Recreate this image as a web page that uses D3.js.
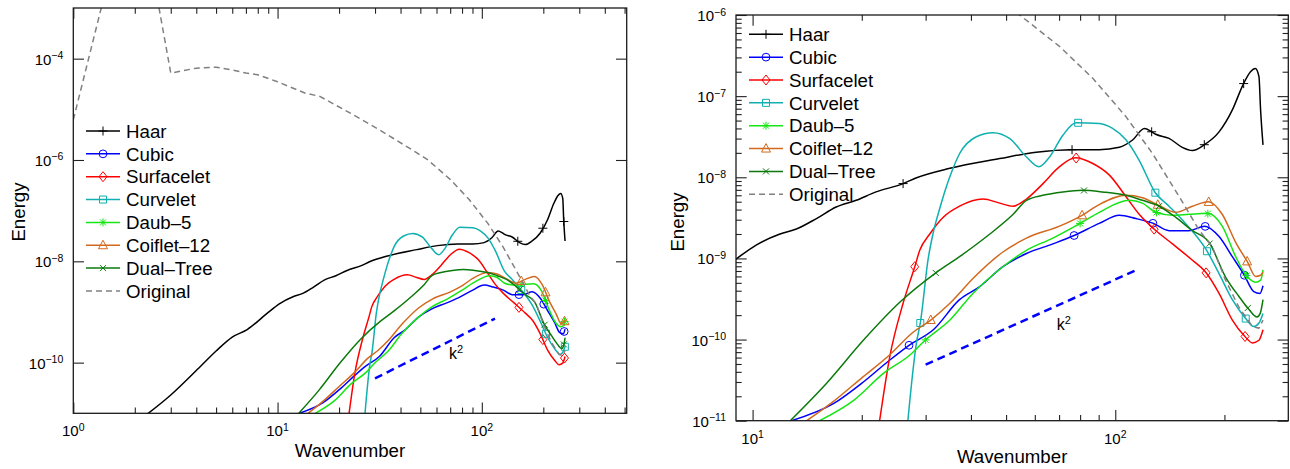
<!DOCTYPE html>
<html><head><meta charset="utf-8">
<script src="https://cdn.jsdelivr.net/npm/d3@7"></script>
<style>
body{margin:0;background:#fff}
svg text{font-family:"Liberation Sans",Arial,Helvetica,sans-serif;fill:#000}
</style>
</head><body>
<svg id="c" width="1290" height="469"></svg>
<script>
// ---------------- DATA (wavenumber k, energy E) ----------------
const seriesNames = ["Haar","Cubic","Surfacelet","Curvelet","Daub–5","Coiflet–12","Dual–Tree","Original"];

const haarData = [[2,6.3e-12],[3,2.3e-11],[4.2,8.5e-11],[5,1.7e-10],[6,3.2e-10],[7.1,4.5e-10],[9,9.8e-10],
 [10.2,1.45e-9],[11.9,2.0e-9],[13.2,2.3e-9],[15,3.1e-9],[17,4.3e-9],[19.3,5.2e-9],[21.9,6.6e-9],[25.9,8.3e-9],
 [28.2,9.8e-9],[35,1.29e-8],[48,1.7e-8],[60.5,2.04e-8],[76.4,2.19e-8],[90.3,2.19e-8],[102.6,2.34e-8],
 [111.6,2.88e-8],[120.3,3.98e-8],[126.1,3.63e-8],[129.3,3.39e-8],[140.7,3.02e-8],[153,2.34e-8],[163.2,2.14e-8],
 [175.8,2.51e-8],[193.3,3.63e-8],[210.3,6.76e-8],[225,1.38e-7],[236,2.0e-7],[243.5,2.19e-7],[249,1.74e-7],
 [251.6,6.76e-8],[255.5,2.51e-8]];

const cubicData = [[12.8,1.0e-11],[16.7,1.62e-11],[20.2,3.0e-11],[23.9,5.6e-11],[27,8.5e-11],[31.5,1.32e-10],
 [37.2,3.1e-10],[42.3,4.5e-10],[49,7.9e-10],[56.9,1.15e-9],[67.3,1.51e-9],[76.7,1.9e-9],[90.3,2.7e-9],
 [102.6,3.4e-9],[114,3.1e-9],[127.4,2.7e-9],[140.7,2.2e-9],[159.6,2.2e-9],[176.6,2.5e-9],[193.3,1.86e-9],
 [210.3,1.05e-9],[227,6.2e-10],[241,3.9e-10],[250.6,3.7e-10],[255.5,4.6e-10]];

const surfaceletData = [[22.4,1.0e-11],[23.9,6.2e-11],[26,2.8e-10],[28,7.9e-10],[28.9,1.26e-9],[30.8,2.0e-9],
 [33.5,3.2e-9],[37.2,4.4e-9],[43.2,5.4e-9],[48,4.8e-9],[52.2,4.4e-9],[56.9,5.4e-9],[63.1,8.3e-9],[70.2,1.35e-8],
 [77.6,1.74e-8],[86.7,1.48e-8],[96.2,1.07e-8],[107,5.8e-9],[116.4,3.5e-9],[127.9,2.3e-9],[143.8,1.51e-9],
 [163.2,9.5e-10],[177.4,6.8e-10],[193.3,3.7e-10],[210.3,1.74e-10],[227.5,1.1e-10],[239,9.1e-11],[249,9.8e-11],
 [255.5,1.32e-10]];

const curveletData = [[26.8,1.0e-11],[28.3,9.1e-11],[29,1.6e-10],[30.5,1.0e-9],[31.5,2.1e-9],[32.9,4.3e-9],
 [34.2,7.6e-9],[35.4,1.17e-8],[37.2,1.95e-8],[41.4,3.16e-8],[46,3.55e-8],[51.2,3.0e-8],[56.9,1.78e-8],
 [61.6,1.35e-8],[65.9,1.78e-8],[71.7,3.3e-8],[78,4.7e-8],[90.3,4.6e-8],[98.3,4.0e-8],[107,2.9e-8],[116.4,1.62e-8],
 [128.8,6.5e-9],[140.7,4.4e-9],[156.2,2.7e-9],[177.4,1.32e-9],[193.3,6.5e-10],[210.3,3.1e-10],[228.8,1.82e-10],
 [241,1.45e-10],[249,1.6e-10],[255.5,2.1e-10]];

const daub5Data = [[15.3,1.0e-11],[19,1.78e-11],[22.9,3.8e-11],[27.2,6.5e-11],[29.9,9.8e-11],[35,1.74e-10],
 [40.5,3.7e-10],[49,7.9e-10],[56.9,1.26e-9],[67.3,1.78e-9],[80,2.7e-9],[90.3,3.7e-9],[109.3,5.2e-9],
 [118.8,4.8e-9],[129.4,3.7e-9],[143.8,3.4e-9],[159.6,3.5e-9],[179.5,3.6e-9],[197.2,2.5e-9],[214.8,1.05e-9],
 [229.6,6.2e-10],[243.8,5.1e-10],[251.6,5.4e-10],[255.5,7.2e-10]];

const coiflet12Data = [[14.1,1.0e-11],[16.4,1.62e-11],[20.2,3.5e-11],[23.9,6.5e-11],[27.7,1.23e-10],[31,1.74e-10],
 [35,2.8e-10],[40.9,5.9e-10],[49,1.2e-9],[56.9,1.78e-9],[70.2,2.5e-9],[81,3.4e-9],[90.3,4.6e-9],[107,6.0e-9],
 [118.8,5.6e-9],[130.7,4.6e-9],[146.9,3.7e-9],[163.2,4.4e-9],[180.7,5.0e-9],[197.2,3.5e-9],[214.8,1.58e-9],
 [231.3,9.1e-10],[243.8,6.0e-10],[251.6,6.2e-10],[255.5,6.8e-10]];

const dualTreeData = [[12.7,1.0e-11],[16,2.9e-11],[20.2,9.8e-11],[25.5,2.9e-10],[31.8,6.5e-10],[37.2,1.05e-9],
 [45.1,2.0e-9],[52.3,3.5e-9],[56.9,5.2e-9],[63.1,6.0e-9],[71.7,6.6e-9],[81.3,6.9e-9],[92.3,6.6e-9],[107,6.0e-9],
 [118.8,5.2e-9],[132.1,4.4e-9],[146.9,3.2e-9],[163.2,2.2e-9],[181.3,1.58e-9],[201.4,5.9e-10],[219.3,3.4e-10],
 [232.8,2.4e-10],[246,1.9e-10],[251,2.1e-10],[255.5,3.1e-10]];

const originalData = [[1,6.2e-6],[2,0.45],[3,5.2e-5],[4,6.5e-5],[5,6.8e-5],[6,6.0e-5],[7,5.2e-5],[8,4.8e-5],
 [10,3.5e-5],[13.6,2.1e-5],[16.1,1.8e-5],[22.6,8.5e-6],[32.7,3.6e-6],[47.9,1.4e-6],[54.5,1.0e-6],[70.2,4.1e-7],
 [86.7,1.66e-7],[107,5.6e-8],[126.8,1.95e-8],[150,5.8e-9],[170.2,2.24e-9],[185.4,1.38e-9],[201.4,5.4e-10],
 [219.3,2.5e-10],[239,1.45e-10],[249,1.38e-10],[255.5,1.74e-10]];

const k2Line = [[30,4.9e-11],[116,7.4e-10]];
const k2LabelAt = [69,1.55e-10];

// marker wavenumbers for each series (Haar..Dual-Tree)
const leftMarkerK  = [[150,199,252],[152,201,253],[152,199,254],[156,206,255],[156,205,254],[156,205,254],[153,203,252]];
const rightMarkerK = [[26,76,126,176,226],[27,77,127,177,227],[28,78,128,178,228],[29,79,129,179,229],
                      [30,80,130,180,230],[31,81,131,181,231],[32,82,132,182,232]];

// tick values
const leftXTicks  = [1,10,100];
const leftYTicks  = [1e-10,1e-8,1e-6,1e-4];
const rightXTicks = [10,100];
const rightYTicks = [1e-11,1e-10,1e-9,1e-8,1e-7,1e-6];

// ---------------- STYLE ----------------
const allData = [haarData,cubicData,surfaceletData,curveletData,daub5Data,coiflet12Data,dualTreeData,originalData];
const colors  = ["#000000","#0000ff","#ff0000","#10b0b0","#14e614","#d2691e","#0b7a0b","#808080"];
const markerTypes = ["plus","circle","diamond","square","asterisk","triangle","x",null];
const FONT_BIG = 18.7, FONT_TICK = 15, FONT_SUP = 10.5;

const svg = d3.select("#c");
svg.append("rect").attr("width",1290).attr("height",469).attr("fill","#fff");

function markerPath(t){
  switch(t){
    case "plus": return "M-4.5,0H4.5M0,-4.5V4.5";
    case "diamond": return "M0,-5L4,0L0,5L-4,0Z";
    case "square": return "M-3.5,-3.5H3.5V3.5H-3.5Z";
    case "asterisk": return "M-4,0H4M0,-4V4M-3,-3L3,3M-3,3L3,-3";
    case "triangle": return "M0,-5L4.5,3.5H-4.5Z";
    case "x": return "M-3,-3L3,3M-3,3L3,-3";
  }
  return null;
}
function drawMarker(g, t, cx, cy, col){
  if(!t) return;
  if(t==="circle"){
    g.append("circle").attr("cx",cx).attr("cy",cy).attr("r",3.9)
      .attr("fill","none").attr("stroke",col).attr("stroke-width",1);
  } else {
    g.append("path").attr("d",markerPath(t)).attr("transform",`translate(${cx},${cy})`)
      .attr("fill","none").attr("stroke",col).attr("stroke-width",1);
  }
}
function interpLog(data,k){
  for(let i=0;i<data.length-1;i++){
    const [k0,e0]=data[i],[k1,e1]=data[i+1];
    if(k>=k0 && k<=k1){
      const t=(Math.log10(k)-Math.log10(k0))/(Math.log10(k1)-Math.log10(k0));
      return Math.pow(10, Math.log10(e0)+t*(Math.log10(e1)-Math.log10(e0)));
    }
  }
  return data[data.length-1][1];
}
function powLabel(sel, v){
  const e = Math.round(Math.log10(v));
  sel.append("tspan").text("10");
  sel.append("tspan").attr("dy",-5.5).attr("font-size",FONT_SUP).text((e<0?"−":"")+Math.abs(e));
}

const panels = [
  {x0:73.3,x1:626.7,y0:8,y1:413.3,xDom:[1,512],yDom:[1e-11,1e-3],xMajor:leftXTicks,yMajor:leftYTicks,
   yMinor:false,markerK:leftMarkerK,legX:86,legY:131,xLabelY:457,yLabelX:25,yLabelY:212},
  {x0:736,x1:1288.3,y0:15,y1:420.7,xDom:[9,300],yDom:[1e-11,1e-6],xMajor:rightXTicks,yMajor:rightYTicks,
   yMinor:true,markerK:rightMarkerK,legX:749,legY:34.3,xLabelY:463,yLabelX:683.5,yLabelY:222}
];

panels.forEach((p,pi)=>{
  const x = d3.scaleLog().domain(p.xDom).range([p.x0,p.x1]);
  const y = d3.scaleLog().domain(p.yDom).range([p.y1,p.y0]);
  const g = svg.append("g");
  const clipId = "clip"+pi;
  g.append("clipPath").attr("id",clipId).append("rect")
    .attr("x",p.x0).attr("y",p.y0).attr("width",p.x1-p.x0).attr("height",p.y1-p.y0);

  // ticks
  const near=(a,b)=>Math.abs(a-b)/b<1e-6;
  const xMinor = x.ticks().filter(v=>!p.xMajor.some(m=>near(v,m)) && v>p.xDom[0] && v<p.xDom[1]);
  const yMinor = p.yMinor ? y.ticks().filter(v=>!p.yMajor.some(m=>near(v,m)) && v>p.yDom[0] && v<p.yDom[1]) : [];
  const MAJ=10.7, MIN=5.7;
  const axes = [
    [d3.axisBottom(x).tickValues(p.xMajor).tickSize(-MAJ),`translate(0,${p.y1})`],
    [d3.axisBottom(x).tickValues(xMinor).tickSize(-MIN),`translate(0,${p.y1})`],
    [d3.axisTop(x).tickValues(p.xMajor).tickSize(-MAJ),`translate(0,${p.y0})`],
    [d3.axisTop(x).tickValues(xMinor).tickSize(-MIN),`translate(0,${p.y0})`],
    [d3.axisLeft(y).tickValues(p.yMajor).tickSize(-MAJ),`translate(${p.x0},0)`],
    [d3.axisLeft(y).tickValues(yMinor).tickSize(-MIN),`translate(${p.x0},0)`],
    [d3.axisRight(y).tickValues(p.yMajor).tickSize(-MAJ),`translate(${p.x1},0)`],
    [d3.axisRight(y).tickValues(yMinor).tickSize(-MIN),`translate(${p.x1},0)`]
  ];
  axes.forEach(([ax,tr])=>{
    const a = g.append("g").attr("transform",tr).call(ax.tickFormat(()=>"").tickSizeOuter(0));
    a.select(".domain").remove();
    a.selectAll("line").attr("stroke","#222").attr("stroke-width",1.1);
    a.selectAll("text").remove();
  });

  // tick labels
  p.xMajor.forEach(v=>{
    const t = g.append("text").attr("x",x(v)).attr("y",p.y1+23).attr("text-anchor","middle").attr("font-size",FONT_TICK);
    powLabel(t,v);
  });
  p.yMajor.forEach(v=>{
    const t = g.append("text").attr("x",p.x0-10).attr("y",y(v)+6).attr("text-anchor","end").attr("font-size",FONT_TICK);
    powLabel(t,v);
  });

  // series
  const plot = g.append("g").attr("clip-path",`url(#${clipId})`);
  const lineSmooth = d3.line().x(d=>x(d[0])).y(d=>y(d[1])).curve(d3.curveMonotoneX);
  const lineLin = d3.line().x(d=>x(d[0])).y(d=>y(d[1]));
  allData.forEach((data,i)=>{
    const isOrig = i===7;
    plot.append("path").attr("d",(isOrig?lineLin:lineSmooth)(data))
      .attr("fill","none").attr("stroke",colors[i]).attr("stroke-width",1.5)
      .attr("stroke-dasharray",isOrig?"6,4":null).attr("stroke-linejoin","round");
    if(!isOrig){
      p.markerK[i].forEach(k=>{
        drawMarker(plot, markerTypes[i], x(k), y(interpLog(data,k)), colors[i]);
      });
    }
  });
  // k^2 reference
  plot.append("path").attr("d",lineLin(k2Line)).attr("fill","none").attr("stroke","#0000ff")
    .attr("stroke-width",2.5).attr("stroke-dasharray","8,5");
  const kt = g.append("text").attr("x",x(k2LabelAt[0])).attr("y",y(k2LabelAt[1])+6).attr("font-size",16);
  kt.append("tspan").text("k");
  kt.append("tspan").attr("dy",-6).attr("font-size",11).text("2");

  // frame
  g.append("rect").attr("x",p.x0).attr("y",p.y0).attr("width",p.x1-p.x0).attr("height",p.y1-p.y0)
    .attr("fill","none").attr("stroke","#1a1a1a").attr("stroke-width",1.3);

  // axis labels
  g.append("text").attr("x",(p.x0+p.x1)/2).attr("y",p.xLabelY).attr("text-anchor","middle")
    .attr("font-size",FONT_BIG).text("Wavenumber");
  g.append("text").attr("transform",`translate(${p.yLabelX},${p.yLabelY}) rotate(-90)`)
    .attr("text-anchor","middle").attr("font-size",FONT_BIG).text("Energy");

  // legend
  const lg = g.append("g");
  seriesNames.forEach((name,i)=>{
    const cy = p.legY + i*22.85;
    lg.append("line").attr("x1",p.legX).attr("x2",p.legX+34).attr("y1",cy).attr("y2",cy)
      .attr("stroke",colors[i]).attr("stroke-width",1.5).attr("stroke-dasharray",i===7?"6,4":null);
    drawMarker(lg, markerTypes[i], p.legX+17, cy, colors[i]);
    lg.append("text").attr("x",p.legX+40).attr("y",cy+6.7).attr("font-size",FONT_BIG).text(name);
  });
});
</script>
</body></html>
